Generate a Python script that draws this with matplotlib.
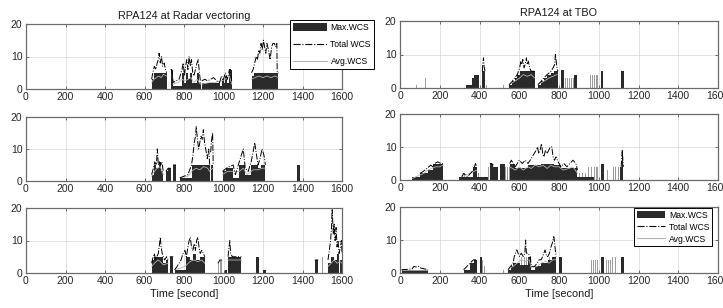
import numpy as np
import matplotlib.pyplot as plt
from matplotlib.patches import Patch
from matplotlib.lines import Line2D

nan = np.nan

# ---- data: bars are (start, end, value), lines are t / v with nan as gaps ----

# RPA124 at Radar vectoring, run 1
radar1_max = [(636, 648, 3), (648, 712, 5), (732, 745, 6), (745, 790, 1), (790, 800, 5),
              (800, 808, 2), (808, 818, 5), (818, 828, 3), (828, 842, 5), (842, 866, 2),
              (866, 878, 5), (878, 884, 2), (890, 980, 2), (980, 990, 1), (990, 1002, 3),
              (1002, 1010, 2), (1010, 1020, 4), (1020, 1030, 2), (1030, 1042, 6),
              (1142, 1152, 4), (1152, 1278, 5)]
radar1_gray = []
radar1_total_t = [636, 642, 650, 658, 664, 670, 674, 680, 686, 692, 700, 706, 712, nan,
                  732, 738, 745, 760, 775, 790, 796, 802, 808, 814, 820, 826, 832, 838, 844,
                  850, 858, 866, 872, 878, 884, nan,
                  890, 905, 920, 935, 950, 965, 980, 990, 1000, 1010, 1020, 1030, 1036, 1042, nan,
                  1142, 1150, 1158, 1166, 1172, 1178, 1184, 1190, 1196, 1202, 1208, 1214, 1220,
                  1228, 1236, 1244, 1250, 1258, 1264, 1270, 1272, 1278]
radar1_total_v = [3, 5, 7, 6, 8, 9, 11, 8, 10, 7, 8, 6, 5, nan,
                  6, 6, 2, 2.5, 3, 6, 8, 4, 7, 9, 6, 10, 7, 9, 5,
                  4, 6, 8, 9, 5, 2, nan,
                  2.5, 3, 2.5, 3, 3.5, 2.5, 2, 4, 3, 5, 3, 6, 6, 2, nan,
                  5, 6, 8, 10, 9, 12, 11, 14, 12, 15, 13, 11, 14,
                  12, 9, 13, 14, 14, 13, 14, 5, 5]
radar1_avg_t = [636, 648, 660, 672, 684, 696, 712, nan,
                745, 770, 790, 805, 820, 835, 850, 866, 884, nan,
                890, 930, 960, 990, 1010, 1030, 1042, nan,
                1142, 1160, 1180, 1200, 1220, 1240, 1260, 1278]
radar1_avg_v = [2, 3, 3.5, 4, 3.5, 4.5, 4, nan,
                1.5, 2, 3, 2.5, 3, 3.5, 2, 3, 1.5, nan,
                1.5, 2, 2, 2.5, 3, 4, 1.5, nan,
                3, 3.5, 4, 3.5, 4, 3.5, 4, 3.5]

# RPA124 at Radar vectoring, run 2
radar2_max = [(636, 648, 2), (648, 660, 5), (660, 672, 4), (672, 684, 6), (684, 695, 3),
              (708, 720, 3), (720, 732, 4), (745, 759, 5), (779, 838, 1), (838, 930, 5),
              (935, 948, 5), (995, 1015, 3), (1015, 1049, 4), (1049, 1080, 1),
              (1080, 1110, 5), (1110, 1140, 2), (1140, 1175, 5), (1175, 1190, 4),
              (1190, 1212, 5), (1374, 1386, 5)]
radar2_gray = []
radar2_total_t = [636, 645, 652, 660, 665, 670, 676, 682, 688, 695, nan,
                  708, 720, 732, nan, 745, 759, nan,
                  779, 800, 820, 838, 845, 852, 858, 862, 868, 874, 880, 886, 892, 898, 904,
                  910, 918, 925, 930, nan,
                  935, 940, 945, 948, nan,
                  995, 1015, 1030, 1049, 1060, 1080, 1090, 1100, 1110, 1125, 1140, 1150,
                  1158, 1165, 1175, 1185, 1195, 1205, 1212]
radar2_total_v = [2, 4, 6, 5, 10, 5, 6, 5, 6, 3, nan,
                  3, 4, 4, nan, 5, 5, nan,
                  1, 1.5, 2, 5, 8, 12, 14, 17, 13, 10, 12, 14, 13, 16, 12,
                  10, 7, 10, 5, nan,
                  9, 13, 15, 5, nan,
                  3, 4, 4.5, 5, 2, 6, 8, 10, 4, 3, 6, 9,
                  12, 9, 5, 7, 10, 8, 5]
radar2_avg_t = [636, 650, 665, 680, 695, nan,
                779, 820, 838, 860, 880, 900, 920, 930, nan,
                935, 948, nan,
                995, 1020, 1049, 1080, 1100, 1120, 1150, 1175, 1195, 1212]
radar2_avg_v = [1.5, 3, 4, 4.5, 2, nan,
                1, 1.5, 3, 4, 3.5, 4.5, 4, 3, nan,
                3.5, 4, nan,
                2, 3, 3, 3, 4, 2, 3.5, 3.5, 4, 4]

# RPA124 at Radar vectoring, run 3
radar3_max = [(636, 650, 4), (650, 695, 5), (695, 708, 3), (708, 720, 4), (728, 745, 5),
              (753, 812, 1), (812, 830, 5), (830, 845, 4), (845, 860, 6), (860, 880, 4),
              (880, 905, 5), (1010, 1017, 1), (1023, 1091, 5), (1167, 1178, 5),
              (1200, 1217, 1), (1462, 1480, 4), (1529, 1545, 3), (1545, 1560, 5),
              (1560, 1575, 4), (1575, 1585, 6), (1590, 1600, 4)]
radar3_gray = [(972, 978, 3), (984, 992, 4), (1498, 1506, 5)]
radar3_total_t = [636, 644, 650, 656, 662, 670, 676, 680, 684, 690, 695, 702, 712, 720, nan,
                  728, 745, nan,
                  753, 765, 775, 785, 795, 805, 812, 820, 826, 832, 838, 845, 852, 858, 864,
                  870, 876, 882, 890, 898, 905, nan,
                  972, 982, 992, nan,
                  1023, 1028, 1032, 1036, 1045, 1091, nan,
                  1462, 1480, nan,
                  1529, 1536, 1542, 1547, 1550, 1553, 1556, 1560, 1565, 1570, 1575, 1580,
                  1585, 1592, 1597, 1600]
radar3_total_v = [3, 5, 6, 4, 5, 6, 9, 11, 8, 6, 5, 4, 5, 4, nan,
                  5, 5, nan,
                  1, 2, 3, 4, 6, 7, 5, 8, 10, 11, 8, 7, 9, 7, 10,
                  11, 8, 6, 7, 6, 5, nan,
                  3, 4, 4, nan,
                  5, 8, 10, 6, 5, 5, nan,
                  4, 4, nan,
                  4, 7, 10, 14, 20, 16, 12, 15, 10, 14, 8, 10,
                  6, 8, 10, 6]
radar3_avg_t = [636, 650, 669, 680, 695, 720, nan,
                753, 780, 805, 830, 850, 870, 890, 905, nan,
                1023, 1091, nan,
                1529, 1545, 1560, 1575, 1590, 1600]
radar3_avg_v = [2, 3, 4, 3.5, 2.5, 3, nan,
                1, 1.5, 2, 3.5, 4, 3.5, 4, 3, nan,
                4, 4, nan,
                2, 3, 4, 3, 3.5, 3]

# RPA124 at TBO, run 1
tbo1_max = [(331, 361, 1), (361, 374, 3), (374, 398, 4), (414, 428, 5), (549, 565, 1),
            (565, 577, 2), (577, 590, 3), (590, 602, 4), (602, 677, 5), (694, 710, 1),
            (710, 724, 2), (724, 742, 3), (742, 760, 4), (760, 777, 4.5), (777, 794, 5),
            (810, 824, 5.5), (877, 890, 4), (1010, 1023, 5), (1110, 1127, 5)]
tbo1_gray = [(83, 88, 1), (125, 130, 3), (431, 436, 1), (517, 522, 1),
             (830, 836, 3), (840, 846, 3), (850, 856, 3), (860, 866, 3), (870, 876, 3),
             (957, 962, 4), (966, 971, 4), (975, 980, 4), (984, 989, 4), (992, 997, 4)]
tbo1_total_t = [414, 418, 420, 424, 428, nan,
                549, 565, 577, 590, 596, 602, 608, 612, 618, 624, 630, 636, 640, 646, 652,
                660, 677, nan,
                694, 710, 724, 740, 760, 770, 778, 782, 786, 790, 794]
tbo1_total_v = [5, 8, 9, 6, 5, nan,
                1, 2, 3, 4, 5, 6, 8, 7, 8.5, 6, 7, 9, 7, 8, 6,
                5, 5, nan,
                1, 2, 3, 4, 5, 6, 7, 10, 8, 6, 5]
tbo1_avg_t = [549, 577, 602, 620, 640, 660, 677, nan,
              694, 724, 750, 770, 790]
tbo1_avg_v = [1, 2, 3, 4, 3.5, 4, 3, nan,
              1, 2, 3, 3.5, 4]

# RPA124 at TBO, run 2
tbo2_max = [(62, 100, 1), (100, 140, 2), (140, 166, 3), (166, 216, 5), (295, 369, 1),
            (369, 386, 4), (386, 444, 1), (452, 470, 5), (470, 494, 4), (502, 527, 5),
            (552, 580, 5), (580, 644, 3.5), (644, 710, 4.5), (710, 777, 5), (777, 810, 4.5),
            (810, 893, 3.5), (893, 977, 1), (1013, 1027, 5), (1106, 1118, 4),
            (1118, 1124, 9)]
tbo2_gray = [(320, 325, 2), (390, 395, 2), (444, 449, 4), (527, 532, 4), (537, 542, 4),
             (546, 551, 4), (900, 905, 2), (915, 920, 2), (930, 935, 2), (948, 953, 4),
             (960, 965, 4), (975, 980, 4), (985, 990, 4), (992, 997, 4), (1040, 1046, 3),
             (1073, 1078, 4), (1084, 1089, 4), (1095, 1100, 4)]
tbo2_total_t = [100, 115, 125, 135, 145, 155, 165, 175, 190, 205, 216, nan,
                311, 320, 340, 369, 375, 380, 386, nan,
                452, 460, 470, nan,
                552, 560, 570, 580, 590, 600, 615, 630, 644, 655, 665, 675, 685, 692, 698,
                705, 712, 718, 724, 732, 740, 748, 756, 764, 770, 777, 785, 792, 800, 810,
                825, 840, 855, 870, 885, 893, nan,
                1113, 1118, 1124]
tbo2_total_v = [2, 2.5, 3, 3.5, 4, 4.5, 4, 5, 5.5, 5, 5, nan,
                1, 2, 1, 3, 4, 5, 4, nan,
                5, 5, 4.5, nan,
                5, 6, 5, 4, 5, 6, 5, 6, 5, 6, 7, 8, 9, 10, 8,
                9, 11, 8, 7, 9, 8, 9, 10, 10, 7, 6, 7, 6, 5, 4,
                5, 4, 5, 6, 5, 3, nan,
                4, 9, 4]
tbo2_avg_t = [62, 100, 120, 140, 160, 180, 200, 216, nan,
              311, 369, 386, nan,
              552, 580, 600, 620, 644, 660, 680, 700, 720, 740, 760, 777, 800, 820, 850,
              870, 893]
tbo2_avg_v = [0.5, 1.5, 2, 3, 3.5, 4, 4, 4.5, nan,
              1, 2.5, 3, nan,
              4, 3, 4, 3, 4, 3.5, 4.5, 4, 4.5, 3.5, 4.5, 4, 4, 3, 3.5,
              4, 2]

# RPA124 at TBO, run 3
tbo3_max = [(8, 141, 1), (320, 353, 1), (353, 370, 3), (370, 386, 4), (403, 414, 5),
            (544, 556, 1), (556, 569, 2), (569, 602, 3), (602, 644, 2.5), (644, 661, 5),
            (661, 677, 1), (677, 710, 2), (710, 744, 3), (744, 765, 4), (765, 785, 5),
            (802, 815, 5), (1013, 1027, 5), (1110, 1127, 5)]
tbo3_gray = [(414, 420, 4), (424, 430, 2), (519, 524, 1), (610, 615, 5), (622, 627, 5),
             (634, 639, 5), (750, 755, 5), (960, 965, 4), (970, 975, 4), (982, 987, 4),
             (992, 997, 4), (1035, 1040, 4), (1045, 1050, 4), (1056, 1061, 4),
             (1068, 1073, 5), (1080, 1086, 5)]
tbo3_total_t = [8, 60, 70, 80, 95, 105, 141, nan,
                320, 353, 370, 386, nan,
                544, 556, 569, 575, 582, 588, 594, 602, 610, 620, 628, 632, 636, 644, 655,
                661, 677, 690, 700, 710, 718, 724, 730, 738, 744, 752, 760, 766, 770, 774,
                778, 785]
tbo3_total_v = [1, 1.2, 2, 1.8, 2, 1.5, 1, nan,
                1, 3, 4, 4, nan,
                1, 2, 3, 5, 6, 7, 6, 5, 6, 5, 6, 10, 6, 6, 5,
                2, 2, 3, 4, 4, 5, 6, 7, 5, 5, 6, 8, 9, 10, 11,
                9, 5]
tbo3_avg_t = [8, 141, nan,
              544, 569, 590, 610, 630, 650, 661, 690, 710, 730, 750, 770, 785]
tbo3_avg_v = [0.8, 0.8, nan,
              1, 2, 3, 4, 3.5, 4, 1.5, 2, 3, 3.5, 3, 4, 4]

x_ticks = list(range(0, 1601, 200))
y_ticks = [0, 10, 20]
titles = ['RPA124 at Radar vectoring', 'RPA124 at TBO']
legend_labels = ['Max.WCS', 'Total WCS', 'Avg.WCS']

BAR_C = '#2a2a2a'
GRAY_C = '#9c9c9c'
AVG_C = '#b4b4b4'

plt.rcParams['font.family'] = ['Liberation Sans', 'DejaVu Sans']


def draw_panel(ax, max_bars, gray_bars, tot_t, tot_v, avg_t, avg_v):
    ax.set_axisbelow(True)
    ax.grid(True, color='#dedede', lw=0.6)
    if gray_bars:
        ax.bar([b[0] for b in gray_bars], [b[2] for b in gray_bars],
               width=[b[1] - b[0] for b in gray_bars], align='edge',
               color=GRAY_C, linewidth=0)
    ax.bar([b[0] for b in max_bars], [b[2] for b in max_bars],
           width=[b[1] - b[0] for b in max_bars], align='edge',
           color=BAR_C, linewidth=0)
    ax.plot(np.array(avg_t, float), np.array(avg_v, float), color=AVG_C, lw=0.6)
    ax.plot(np.array(tot_t, float), np.array(tot_v, float), color='k', ls='-.', lw=0.7)
    ax.set_xlim(0, 1600)
    ax.set_ylim(0, 20)
    ax.set_xticks(x_ticks)
    ax.set_yticks(y_ticks)
    ax.tick_params(direction='in', length=2.5, width=0.6, top=True, right=True,
                   labelsize=7.5, pad=2.5, color='#555555', labelcolor='#262626')
    for s in ax.spines.values():
        s.set_color('#6a6a6a')
        s.set_linewidth(0.9)


fig = plt.figure(figsize=(7.23, 3.08), dpi=100)
W, H = 723.0, 308.0

# pixel boxes (left, top, right, bottom)
left_boxes = [(26, 24, 342, 89), (26, 117, 342, 181), (26, 208, 342, 273)]
right_boxes = [(400, 21, 718, 88), (400, 114, 718, 180), (400, 207, 718, 273)]

left_data = [
    (radar1_max, radar1_gray, radar1_total_t, radar1_total_v, radar1_avg_t, radar1_avg_v),
    (radar2_max, radar2_gray, radar2_total_t, radar2_total_v, radar2_avg_t, radar2_avg_v),
    (radar3_max, radar3_gray, radar3_total_t, radar3_total_v, radar3_avg_t, radar3_avg_v),
]
right_data = [
    (tbo1_max, tbo1_gray, tbo1_total_t, tbo1_total_v, tbo1_avg_t, tbo1_avg_v),
    (tbo2_max, tbo2_gray, tbo2_total_t, tbo2_total_v, tbo2_avg_t, tbo2_avg_v),
    (tbo3_max, tbo3_gray, tbo3_total_t, tbo3_total_v, tbo3_avg_t, tbo3_avg_v),
]

axes = []
for col, (boxes, data) in enumerate([(left_boxes, left_data), (right_boxes, right_data)]):
    for row, (box, d) in enumerate(zip(boxes, data)):
        l, t, r, b = box
        ax = fig.add_axes([l / W, 1 - b / H, (r - l) / W, (b - t) / H])
        draw_panel(ax, *d)
        if row == 0:
            ax.set_title(titles[col], fontsize=7.8, pad=3.5, color='#1a1a1a')
        if row == 2:
            ax.set_xlabel('Time [second]', fontsize=7.8, labelpad=2, color='#1a1a1a')
        axes.append(ax)

handles = [Patch(facecolor=BAR_C, edgecolor='none'),
           Line2D([], [], color='k', ls='-.', lw=0.8),
           Line2D([], [], color=AVG_C, lw=0.8)]

fig.legend(handles, legend_labels, loc='upper right',
           bbox_to_anchor=(374 / W, 1 - 20 / H), bbox_transform=fig.transFigure,
           fancybox=False, edgecolor='k', framealpha=1, fontsize=6.2,
           handlelength=3.9, handleheight=0.9, labelspacing=0.95, borderpad=0.35,
           handletextpad=0.4, borderaxespad=0).get_frame().set_linewidth(0.7)

fig.legend(handles, legend_labels, loc='upper right',
           bbox_to_anchor=(712 / W, 1 - 208 / H), bbox_transform=fig.transFigure,
           fancybox=False, edgecolor='k', framealpha=1, fontsize=6.2,
           handlelength=3.3, handleheight=0.9, labelspacing=0.35, borderpad=0.3,
           handletextpad=0.4, borderaxespad=0).get_frame().set_linewidth(0.7)

fig.savefig('out.png', dpi=100)
